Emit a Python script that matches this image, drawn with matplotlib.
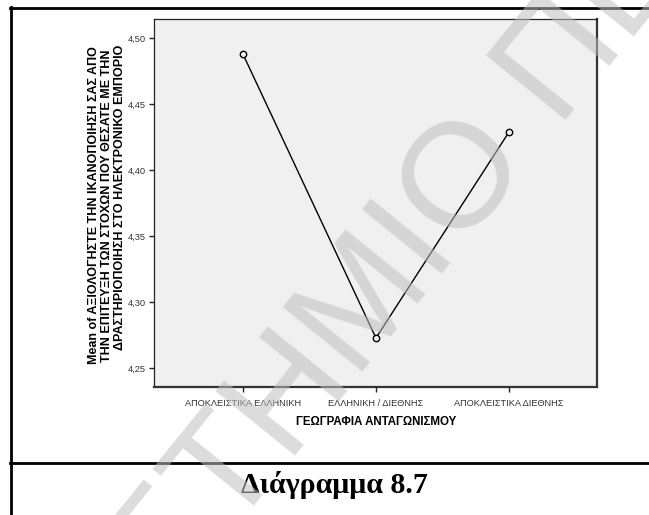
import numpy as np
import matplotlib
matplotlib.use("Agg")
import matplotlib.pyplot as plt
from matplotlib.lines import Line2D
from matplotlib.ticker import FuncFormatter

# Mean satisfaction by geography of competition
categories = ["ΑΠΟΚΛΕΙΣΤΙΚΑ ΕΛΛΗΝΙΚΗ", "ΕΛΛΗΝΙΚΗ / ΔΙΕΘΝΗΣ", "ΑΠΟΚΛΕΙΣΤΙΚΑ ΔΙΕΘΝΗΣ"]
means = [4.488, 4.273, 4.429]
y_ticks = [4.25, 4.30, 4.35, 4.40, 4.45, 4.50]

ylabel_lines = [
    "Mean of ΑΞΙΟΛΟΓΗΣΤΕ ΤΗΝ ΙΚΑΝΟΠΟΙΗΣΗ ΣΑΣ ΑΠΟ",
    "ΤΗΝ ΕΠΙΤΕΥΞΗ ΤΩΝ ΣΤΟΧΩΝ ΠΟΥ ΘΕΣΑΤΕ ΜΕ ΤΗΝ",
    "ΔΡΑΣΤΗΡΙΟΠΟΙΗΣΗ ΣΤΟ ΗΛΕΚΤΡΟΝΙΚΟ ΕΜΠΟΡΙΟ",
]
xlabel = "ΓΕΩΓΡΑΦΙΑ ΑΝΤΑΓΩΝΙΣΜΟΥ"
caption = "Διάγραμμα 8.7"
watermark = "ΠΑΝΕΠΙΣΤΗΜΙΟ ΠΕΙΡΑΙΩΣ"

W, H = 649, 515
plt.rcParams["font.family"] = ["Liberation Sans", "DejaVu Sans"]

fig = plt.figure(figsize=(W / 100, H / 100), dpi=100)
fig.patch.set_facecolor("white")


def fx(px):
    return px / W


def fy(py):
    return 1 - py / H


# plot area
left, top, right, bottom = 154, 19.3, 597, 386.7
ax = fig.add_axes([fx(left), fy(bottom), fx(right - left), (bottom - top) / H])
ax.set_facecolor("#f0f0f0")

x = np.arange(len(categories))
ax.plot(x, means, color="black", lw=1.0, marker="o", ms=4.6,
        mfc="#f0f0f0", mec="black", mew=1.0, zorder=3)

ax.set_xlim(-0.669, 2.662)
ax.set_ylim(4.2361, 4.5144)
ax.set_xticks(x)
ax.set_xticklabels(categories)
ax.set_yticks(y_ticks)
ax.yaxis.set_major_formatter(FuncFormatter(lambda v, p: f"{v:.2f}".replace(".", ",")))

ax.tick_params(axis="both", direction="out", length=3.8, width=1.0, color="#222222",
               labelsize=6.7, labelcolor="#333333")
ax.tick_params(axis="y", pad=2)
ax.tick_params(axis="x", pad=5)

for side in ["left", "top"]:
    ax.spines[side].set_linewidth(0.9)
    ax.spines[side].set_color("#222222")
for side in ["right", "bottom"]:
    ax.spines[side].set_linewidth(1.6)
    ax.spines[side].set_color("#333333")

# axis titles
fig.text(fx(376), fy(425), xlabel, ha="center", va="baseline",
         fontsize=8.3, fontweight="bold", color="black")

ylab_x = [96.7, 110.0, 123.0]
ylab_y = [205, 206, 197]
for txt, xb, yc in zip(ylabel_lines, ylab_x, ylab_y):
    fig.text(fx(xb), fy(yc), txt, rotation=90, rotation_mode="anchor",
             ha="center", va="baseline", fontsize=9, fontweight="bold",
             color="black")

# page frame and caption separator
lw_frame = 2.0
fig.add_artist(Line2D([fx(10), 1.0], [fy(7.5), fy(7.5)], color="black", lw=lw_frame))
fig.add_artist(Line2D([fx(10.5), fx(10.5)], [fy(7), 0.0], color="black", lw=lw_frame))
fig.add_artist(Line2D([fx(10), 1.0], [fy(463), fy(463)], color="black", lw=lw_frame))

fig.text(fx(334), fy(493), caption, ha="center", va="baseline",
         fontsize=21.5, fontweight="bold", family=["Liberation Serif", "DejaVu Serif"],
         color="black")

# diagonal watermark across the page
ang = np.deg2rad(51)
em = 149.4
prefix_adv = 4.389 * em
sx = 230.0 - prefix_adv * np.cos(ang)
sy = 536.0 + prefix_adv * np.sin(ang)
fig.text(fx(sx), fy(sy), watermark, rotation=51, rotation_mode="anchor",
         ha="left", va="baseline", fontsize=107.6, color="#bfbfbf", alpha=0.55,
         zorder=10)

fig.savefig("out.png", dpi=100)
